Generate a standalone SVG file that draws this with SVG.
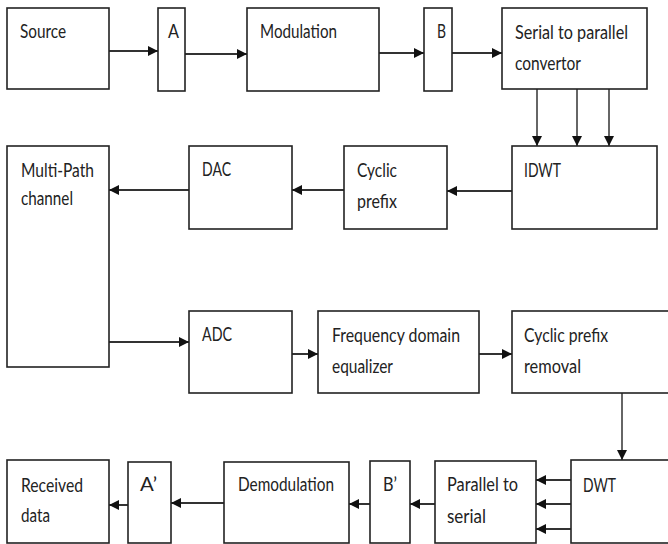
<svg xmlns="http://www.w3.org/2000/svg" width="668" height="544" viewBox="0 0 668 544">
<style>
.box{fill:#fff;stroke:#222;stroke-width:1.6}
.t{font-family:Lato,"Liberation Sans",sans-serif;font-size:18.5px;fill:#222}
.c{stroke:#333;stroke-width:2;fill:none;marker-end:url(#ah)}
.v{stroke:#333;stroke-width:1.5;fill:none;marker-end:url(#ah)}
</style>
<defs>
<marker id="ah" viewBox="0 0 10 10" refX="10" refY="5" markerWidth="11" markerHeight="10" markerUnits="userSpaceOnUse" orient="auto">
<path d="M0,0 L10,5 L0,10 z" fill="#111"/>
</marker>
</defs>
<rect width="668" height="544" fill="#fff"/>
<g id="connectors">
<line class="c" x1="109" y1="51" x2="158" y2="51"/>
<line class="c" x1="185" y1="54" x2="247" y2="54"/>
<line class="c" x1="379" y1="53" x2="424" y2="53"/>
<line class="c" x1="452" y1="53" x2="502" y2="53"/>
<line class="v" x1="537" y1="89" x2="537" y2="146"/>
<line class="v" x1="577" y1="89" x2="577" y2="146"/>
<line class="v" x1="609" y1="89" x2="609" y2="146"/>
<line class="c" x1="512" y1="191" x2="447" y2="191"/>
<line class="c" x1="344" y1="190" x2="292" y2="190"/>
<line class="c" x1="189" y1="190" x2="109" y2="190"/>
<line class="c" x1="109" y1="342" x2="189" y2="342"/>
<line class="c" x1="292" y1="354" x2="318" y2="354"/>
<line class="c" x1="479" y1="354" x2="512" y2="354"/>
<line class="v" x1="622" y1="393" x2="622" y2="460"/>
<line class="c" x1="571" y1="480" x2="536" y2="480"/>
<line class="c" x1="571" y1="504" x2="536" y2="504"/>
<line class="c" x1="571" y1="529" x2="536" y2="529"/>
<line class="c" x1="435" y1="504" x2="410" y2="504"/>
<line class="c" x1="370" y1="504" x2="349" y2="504"/>
<line class="c" x1="224" y1="503" x2="171" y2="503"/>
<line class="c" x1="128" y1="505" x2="109" y2="505"/>
</g>
<g id="source"><rect class="box" x="7" y="8" width="102" height="81"/><text class="t" x="20" y="38" textLength="46" lengthAdjust="spacingAndGlyphs">Source</text></g>
<g id="a"><rect class="box" x="158" y="8" width="27" height="83"/><text class="t" x="168" y="38" textLength="11" lengthAdjust="spacingAndGlyphs">A</text></g>
<g id="modulation"><rect class="box" x="247" y="8" width="132" height="83"/><text class="t" x="260" y="38" textLength="77" lengthAdjust="spacingAndGlyphs">Modulation</text></g>
<g id="b"><rect class="box" x="424" y="8" width="28" height="83"/><text class="t" x="437" y="38" textLength="9" lengthAdjust="spacingAndGlyphs">B</text></g>
<g id="s2p"><rect class="box" x="502" y="8" width="145" height="81"/><text class="t" x="515" y="39" textLength="113" lengthAdjust="spacingAndGlyphs">Serial to parallel</text><text class="t" x="515" y="70" textLength="66" lengthAdjust="spacingAndGlyphs">convertor</text></g>
<g id="idwt"><rect class="box" x="512" y="146" width="145" height="83"/><text class="t" x="524" y="177" textLength="37" lengthAdjust="spacingAndGlyphs">IDWT</text></g>
<g id="cyclic"><rect class="box" x="344" y="146" width="103" height="83"/><text class="t" x="357" y="177" textLength="40" lengthAdjust="spacingAndGlyphs">Cyclic</text><text class="t" x="357" y="208" textLength="40" lengthAdjust="spacingAndGlyphs">prefix</text></g>
<g id="dac"><rect class="box" x="189" y="146" width="103" height="83"/><text class="t" x="202" y="176" textLength="29" lengthAdjust="spacingAndGlyphs">DAC</text></g>
<g id="multipath"><rect class="box" x="7" y="146" width="102" height="221"/><text class="t" x="21" y="177" textLength="73" lengthAdjust="spacingAndGlyphs">Multi-Path</text><text class="t" x="21" y="205" textLength="52" lengthAdjust="spacingAndGlyphs">channel</text></g>
<g id="adc"><rect class="box" x="189" y="311" width="103" height="82"/><text class="t" x="202" y="341" textLength="30" lengthAdjust="spacingAndGlyphs">ADC</text></g>
<g id="fde"><rect class="box" x="318" y="311" width="161" height="82"/><text class="t" x="332" y="342" textLength="128" lengthAdjust="spacingAndGlyphs">Frequency domain</text><text class="t" x="332" y="373" textLength="61" lengthAdjust="spacingAndGlyphs">equalizer</text></g>
<g id="cpr"><rect class="box" x="512" y="311" width="162" height="82"/><text class="t" x="524" y="342" textLength="84" lengthAdjust="spacingAndGlyphs">Cyclic prefix</text><text class="t" x="524" y="373" textLength="57" lengthAdjust="spacingAndGlyphs">removal</text></g>
<g id="dwt"><rect class="box" x="571" y="460" width="103" height="83"/><text class="t" x="583" y="492" textLength="33" lengthAdjust="spacingAndGlyphs">DWT</text></g>
<g id="p2s"><rect class="box" x="435" y="461" width="101" height="82"/><text class="t" x="447" y="491" textLength="71" lengthAdjust="spacingAndGlyphs">Parallel to</text><text class="t" x="447" y="523" textLength="39" lengthAdjust="spacingAndGlyphs">serial</text></g>
<g id="bprime"><rect class="box" x="370" y="461" width="40" height="82"/><text class="t" x="383" y="491" textLength="14" lengthAdjust="spacingAndGlyphs">B’</text></g>
<g id="demodulation"><rect class="box" x="224" y="462" width="125" height="81"/><text class="t" x="238" y="491" textLength="96" lengthAdjust="spacingAndGlyphs">Demodulation</text></g>
<g id="aprime"><rect class="box" x="128" y="462" width="43" height="81"/><text class="t" x="140" y="491" textLength="17" lengthAdjust="spacingAndGlyphs">A’</text></g>
<g id="received"><rect class="box" x="7" y="460" width="102" height="83"/><text class="t" x="21" y="492" textLength="62" lengthAdjust="spacingAndGlyphs">Received</text><text class="t" x="21" y="522" textLength="29" lengthAdjust="spacingAndGlyphs">data</text></g>
</svg>
